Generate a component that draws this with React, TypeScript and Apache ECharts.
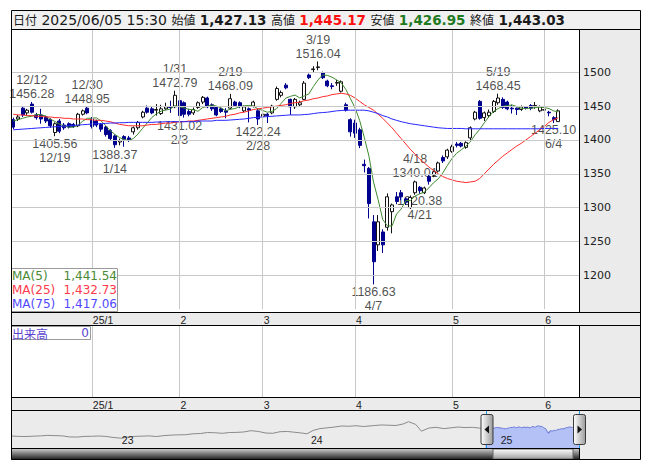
import React, { useEffect, useRef } from "react";
import * as echarts from "echarts";

// ---------- trading days shown (Dec 2024 - Jun 2025) ----------
const decDays = [6, 9, 10, 11, 12, 13, 16, 17, 18, 19, 20, 23, 24, 25, 26, 27, 30];
const janDays = [6, 7, 8, 9, 10, 14, 15, 16, 17, 20, 21, 22, 23, 24, 27, 28, 29, 30, 31];
const febDays = [3, 4, 5, 6, 7, 10, 12, 13, 14, 17, 18, 19, 20, 21, 25, 26, 27, 28];
const marDays = [3, 4, 5, 6, 7, 10, 11, 12, 13, 14, 17, 18, 19, 21, 24, 25, 26, 27, 28, 31];
const aprDays = [1, 2, 3, 4, 7, 8, 9, 10, 11, 14, 15, 16, 17, 18, 21, 22, 23, 24, 25, 28, 30];
const mayDays = [1, 2, 7, 8, 9, 12, 13, 14, 15, 16, 19, 20, 21, 22, 23, 26, 27, 28, 29, 30];
const junDays = [2, 3, 4, 5];

// ---------- candles: [open, close, low, high] ----------
const decOHLC = [
  [1430, 1419, 1416, 1433], [1431, 1434, 1428, 1437], [1447, 1437, 1434, 1449], [1440, 1444, 1437, 1446],
  [1453, 1441, 1439, 1456.28], [1437, 1433, 1430, 1440], [1437, 1431, 1424, 1446], [1434, 1428, 1425, 1436],
  [1430, 1421, 1418, 1432], [1411, 1424, 1405.56, 1426], [1428, 1413, 1410, 1431], [1422, 1418, 1415, 1425],
  [1424, 1419, 1417, 1426], [1423, 1420, 1418, 1425], [1421, 1438, 1419, 1440], [1438, 1443, 1436, 1445],
  [1447, 1440, 1438, 1448.95],
];
const janOHLC = [
  [1431, 1420, 1417, 1434], [1428, 1422, 1419, 1430], [1423, 1416, 1412, 1425], [1419, 1408, 1405, 1421],
  [1414, 1402, 1400, 1416], [1406, 1393, 1388.37, 1408], [1397, 1399, 1392, 1402], [1405, 1401, 1390, 1407],
  [1403, 1400, 1397, 1406], [1412, 1418, 1408, 1420], [1418, 1426, 1415, 1428], [1434, 1441, 1432, 1443],
  [1447, 1441, 1439, 1451], [1446, 1440, 1438, 1449], [1444, 1445, 1436, 1453], [1439, 1446, 1437, 1452],
  [1446, 1449, 1444, 1455], [1449, 1448, 1440, 1458], [1449, 1466, 1447, 1472.79],
];
const febOHLC = [
  [1458, 1436, 1431.02, 1460], [1455, 1438, 1433, 1457], [1442, 1438, 1435, 1446], [1440, 1445, 1437, 1448],
  [1448, 1455, 1446, 1457], [1456, 1463, 1453, 1465], [1462, 1449, 1447, 1464], [1452, 1446, 1443, 1454],
  [1448, 1437, 1435, 1450], [1446, 1442, 1440, 1448], [1443, 1441, 1432, 1447], [1447, 1461, 1445, 1468.09],
  [1456, 1451, 1449, 1458], [1455, 1450, 1447, 1457], [1443, 1449, 1441, 1451], [1446, 1444, 1426, 1448],
  [1450, 1456, 1448, 1458], [1443, 1431, 1422.24, 1446],
];
const marOHLC = [
  [1435, 1438, 1433, 1440], [1438, 1436, 1425, 1440], [1440, 1450, 1438, 1452], [1460, 1476, 1458, 1479],
  [1466, 1470, 1463, 1473], [1481, 1477, 1475, 1484], [1460, 1449, 1437, 1461], [1449, 1460, 1446, 1462],
  [1452, 1455, 1449, 1458], [1460, 1484, 1459, 1487], [1496, 1492, 1490, 1498], [1504, 1505, 1500, 1509],
  [1507, 1508, 1503, 1516.04], [1499, 1492, 1490, 1501], [1487, 1480, 1478, 1489], [1480, 1479, 1475, 1484],
  [1484, 1485, 1480, 1489], [1472, 1486, 1470, 1488], [1452, 1444, 1442, 1455], [1430, 1412, 1405, 1432],
];
const aprOHLC = [
  [1425, 1410, 1403, 1430], [1415, 1392, 1388, 1418], [1364, 1362, 1352, 1371], [1358, 1306, 1284, 1360],
  [1279, 1220, 1186.63, 1289], [1245, 1279, 1236, 1289], [1264, 1245, 1233, 1268], [1271, 1316, 1266, 1321],
  [1294, 1304, 1262, 1306], [1316, 1309, 1305, 1323], [1322, 1316, 1311, 1326], [1313, 1308, 1304, 1315],
  [1300, 1315, 1298, 1318], [1322, 1338, 1319, 1340.01], [1330, 1325, 1320.38, 1332], [1322, 1329, 1320, 1331],
  [1346, 1339, 1334, 1348], [1348, 1353, 1345, 1355], [1354, 1366, 1352, 1368], [1374, 1369, 1366, 1377],
  [1375, 1385, 1372, 1387],
];
const mayOHLC = [
  [1383, 1390, 1381, 1393], [1394, 1392, 1389, 1397], [1395, 1391, 1389, 1397], [1389, 1396, 1387, 1398],
  [1403, 1418, 1398, 1420], [1431, 1441, 1429, 1443], [1457, 1432, 1430, 1459], [1433, 1440, 1428, 1442],
  [1436, 1441, 1433, 1445], [1442, 1457, 1440, 1459], [1455, 1462, 1452, 1468.45], [1460, 1448, 1446, 1463],
  [1456, 1446, 1444, 1458], [1447, 1446, 1439, 1452], [1447, 1445, 1437, 1448], [1445, 1449, 1443, 1451],
  [1449, 1447, 1445, 1450], [1451, 1447, 1444, 1453], [1450, 1451, 1446, 1456], [1443, 1449, 1441, 1451],
];
const junOHLC = [
  [1444, 1445, 1438, 1448], [1441, 1440, 1435, 1443], [1433, 1430, 1425.1, 1435], [1427.13, 1443.03, 1426.95, 1445.17],
];

// ---------- moving averages ----------
const ma5Values = [
  1428, 1430, 1432, 1434, 1435, 1437.8, 1437.2, 1435.4, 1430.8, 1427.4, 1423.4, 1420.8, 1419, 1418.8, 1421.6, 1427.6, 1432,
  1432.2, 1432.6, 1428.2, 1421.2, 1413.6, 1408.2, 1403.6, 1400.6, 1399, 1402.2, 1408.8, 1417.2, 1425.2, 1433.2, 1438.6, 1442.6, 1444.2, 1445.6, 1450.8,
  1449, 1447.4, 1445.2, 1444.6, 1442.4, 1447.8, 1450, 1451.6, 1450, 1447.4, 1443, 1445.4, 1446.4, 1449, 1450.4, 1451, 1450, 1446,
  1443.6, 1441, 1442.2, 1446.2, 1454, 1461.8, 1464.4, 1466.4, 1462.2, 1465, 1468, 1479.2, 1488.8, 1496.2, 1495.4, 1492.8, 1488.8, 1484.4, 1474.8, 1461.2,
  1447.4, 1428.8, 1404, 1376.4, 1338, 1311.8, 1282.4, 1273.2, 1272.8, 1290.6, 1298, 1310.6, 1310.4, 1317.2, 1320.4, 1323, 1329.2, 1336.8, 1342.4, 1351.2, 1362.4,
  1372.6, 1380.4, 1385.4, 1390.8, 1397.4, 1407.6, 1415.6, 1425.4, 1434.4, 1442.2, 1446.4, 1449.6, 1450.8, 1451.8, 1449.4, 1446.8, 1446.6, 1446.8, 1447.8, 1448.6,
  1447.8, 1446.4, 1443, 1441.54,
];
const ma25Values = [
  1438, 1437, 1437, 1436, 1436, 1435, 1435, 1434, 1434, 1433, 1433, 1432, 1432, 1431, 1431, 1431, 1430,
  1430, 1429, 1429, 1428, 1427, 1425, 1423, 1422, 1421, 1421, 1421, 1421, 1422, 1423, 1423, 1424, 1425, 1425, 1426,
  1427, 1427, 1428, 1428, 1429, 1430, 1431, 1432, 1433, 1434, 1435, 1437, 1438, 1440, 1441, 1443, 1445, 1446,
  1447, 1448, 1449, 1450, 1451, 1452, 1454, 1455, 1456, 1458, 1459, 1461, 1462, 1464, 1465, 1467, 1468, 1469, 1468, 1466,
  1462, 1457, 1452, 1448, 1444, 1438, 1432, 1425, 1418, 1410, 1402, 1394, 1386, 1379, 1372, 1366, 1360, 1355, 1350, 1346, 1343,
  1341, 1339, 1338, 1337, 1338, 1339, 1343, 1350, 1357, 1364, 1370, 1376, 1381, 1386, 1391, 1395, 1400, 1405, 1410, 1415,
  1420, 1426, 1430, 1432.73,
];
const ma75Values = [
  1415, 1415.5, 1416, 1416.5, 1417, 1417.5, 1418, 1418.5, 1419, 1419.5, 1420, 1420.5, 1421, 1421.5, 1422, 1422.5, 1423,
  1423.5, 1424, 1424, 1424.5, 1425, 1425, 1425.5, 1425.5, 1426, 1426, 1426, 1426, 1426, 1426, 1426.5, 1426.5, 1427, 1427, 1427,
  1427, 1427, 1427, 1427, 1428, 1428, 1428, 1428, 1429, 1429, 1429, 1429.5, 1430, 1430.5, 1431, 1432, 1433, 1433.5,
  1434, 1434.5, 1435, 1435.5, 1436, 1436.5, 1437, 1437, 1437, 1437.5, 1438, 1439, 1440, 1440.5, 1441, 1442, 1443, 1443.5, 1444, 1444,
  1444, 1444, 1444, 1443, 1441, 1439, 1436, 1434, 1431, 1429, 1427, 1425.5, 1424, 1423, 1422, 1421, 1420, 1419, 1418, 1417.5, 1417,
  1417, 1417, 1417, 1416.5, 1416.5, 1416.5, 1416.5, 1416.5, 1416.5, 1416.5, 1416.5, 1416.5, 1416.5, 1416.5, 1416.5, 1416.5, 1416.5, 1416.5, 1416.5, 1416.5,
  1417, 1417, 1417, 1417.06,
];

// ---------- high / low annotations ----------
const highMarks: [string, number][] = [
  ["2024-12-12", 1456.28], ["2024-12-30", 1448.95], ["2025-01-31", 1472.79], ["2025-02-19", 1468.09],
  ["2025-03-19", 1516.04], ["2025-04-18", 1340.01], ["2025-05-19", 1468.45],
];
const lowMarks: [string, number][] = [
  ["2024-12-19", 1405.56], ["2025-01-14", 1388.37], ["2025-02-03", 1431.02], ["2025-02-28", 1422.24],
  ["2025-04-07", 1186.63], ["2025-04-21", 1320.38], ["2025-06-04", 1425.1],
];

// ---------- axis ticks ----------
const priceTicks = [1200, 1250, 1300, 1350, 1400, 1450, 1500];
const monthTickLabels = ["25/1", "2", "3", "4", "5", "6"];

// ---------- navigator (long history overview) ----------
const navHistDates = [
  "2022-06-06", "2022-06-20", "2022-07-04", "2022-07-19", "2022-08-01", "2022-08-15", "2022-08-29", "2022-09-12",
  "2022-09-26", "2022-10-11", "2022-10-24", "2022-11-07", "2022-11-21", "2022-12-05", "2022-12-19",
  "2023-01-04", "2023-01-16", "2023-01-30", "2023-02-13", "2023-02-27", "2023-03-13", "2023-03-27", "2023-04-10",
  "2023-04-24", "2023-05-08", "2023-05-22", "2023-06-05", "2023-06-19", "2023-07-03", "2023-07-18", "2023-08-01",
  "2023-08-15", "2023-08-28", "2023-09-11", "2023-09-25", "2023-10-10", "2023-10-23", "2023-11-06", "2023-11-20",
  "2023-12-04", "2023-12-18", "2023-12-28",
  "2024-01-09", "2024-01-22", "2024-02-05", "2024-02-19", "2024-03-04", "2024-03-18", "2024-04-01", "2024-04-15",
  "2024-05-07", "2024-05-20", "2024-06-03", "2024-06-17", "2024-07-01", "2024-07-11", "2024-07-25", "2024-08-05",
  "2024-08-19", "2024-09-02", "2024-09-17", "2024-10-01", "2024-10-15", "2024-10-28", "2024-11-11", "2024-11-25",
  "2024-12-06",
];
const navHistValues = [
  1115, 1100, 1095, 1110, 1120, 1140, 1130, 1120, 1080, 1075, 1100, 1105, 1115, 1100, 1060,
  1030, 1070, 1100, 1110, 1120, 1095, 1130, 1150, 1160, 1165, 1200, 1210, 1250, 1240, 1220, 1250,
  1255, 1270, 1320, 1290, 1230, 1220, 1280, 1290, 1260, 1230, 1200,
  1330, 1400, 1430, 1460, 1500, 1490, 1510, 1480, 1520, 1540, 1530, 1520, 1580, 1665, 1560, 1300,
  1420, 1450, 1400, 1430, 1460, 1440, 1450, 1420, 1419,
];

// ---------- derived ----------
const p2 = (n: number) => (n < 10 ? "0" + n : "" + n);
const toDates = (y: number, m: number, days: number[]) => days.map((d) => `${y}-${p2(m)}-${p2(d)}`);
const tradingDates = [
  ...toDates(2024, 12, decDays), ...toDates(2025, 1, janDays), ...toDates(2025, 2, febDays),
  ...toDates(2025, 3, marDays), ...toDates(2025, 4, aprDays), ...toDates(2025, 5, mayDays), ...toDates(2025, 6, junDays),
];
const categories = [...tradingDates, "pad-1", "pad-2", "pad-3", "pad-4"];
const ohlc = [...decOHLC, ...janOHLC, ...febOHLC, ...marOHLC, ...aprOHLC, ...mayOHLC, ...junOHLC];
const monthFirstDates = [janDays, febDays, marDays, aprDays, mayDays, junDays].map(
  (days, k) => `2025-${p2(k + 1)}-${p2(days[0])}`
);
const monthLabelOf: Record<string, string> = {};
monthFirstDates.forEach((d, k) => (monthLabelOf[d] = monthTickLabels[k]));
const md = (d: string) => `${+d.slice(5, 7)}/${+d.slice(8, 10)}`;
const fmt = (v: number) => v.toLocaleString("en-US", { minimumFractionDigits: 2, maximumFractionDigits: 2 });

const FONT = "'DejaVu Sans', sans-serif";
const LFONT = "'Liberation Sans', sans-serif";
const JFONT = "'Noto Sans CJK JP', sans-serif";

function buildOption(): any {
  const last = ohlc[ohlc.length - 1];
  const grad = (x2: number, y2: number, stops: [number, string][]) => ({
    type: "linear", x: 0, y: 0, x2, y2,
    colorStops: stops.map(([offset, color]) => ({ offset, color })),
  });
  const rect = (x: number, y: number, w: number, h: number, style: any, z: number) => ({
    type: "rect", shape: { x, y, width: w, height: h }, style, z, silent: true,
  });
  const hl = (x1: number, x2: number, y: number, stroke = "#000", z = 60) => ({
    type: "line", shape: { x1, y1: y, x2, y2: y }, style: { stroke, lineWidth: 1 }, z, silent: true,
  });
  const vl = (x: number, y1: number, y2: number, stroke = "#000", z = 60) => ({
    type: "line", shape: { x1: x, y1, x2: x, y2 }, style: { stroke, lineWidth: 1 }, z, silent: true,
  });
  const txt = (x: number, y: number, text: string, fill: string, align = "left", font = FONT, size = 12) => ({
    type: "text", x, y, z: 62, silent: true,
    style: { text, fill, align, verticalAlign: "middle", fontFamily: font, fontSize: size },
  });

  const maColors = ["#3f8a2f", "#ff2b2b", "#2626ff"];
  const maTextColors = ["#4a8a36", "#ff3a4a", "#5048ff"];
  const maNames = ["MA(5)", "MA(25)", "MA(75)"];
  const maArrays = [ma5Values, ma25Values, ma75Values];

  const graphic: any[] = [
    // backgrounds
    rect(11, 10, 630, 20, { fill: "#f0f0f0" }, -5),
    rect(579, 30, 62, 430, { fill: "#ebebeb" }, -5),
    rect(11, 312, 630, 14, { fill: "#ebebeb" }, -5),
    rect(11, 397, 630, 13, { fill: "#ebebeb" }, -5),
    rect(11, 410, 568, 38, { fill: "#ebebeb" }, -5),
    // scrollbar
    rect(11, 448.5, 568, 11, { fill: grad(0, 1, [[0, "#cfcfcf"], [0.45, "#808080"], [1, "#1e1e1e"]]) }, 40),
    rect(493, 449, 80, 10, { fill: grad(0, 1, [[0, "#fbfbfb"], [0.5, "#d0d0d0"], [1, "#9a9a9a"]]), stroke: "#666", lineWidth: 1 }, 41),
    // frame lines
    hl(11, 641, 29.5), hl(11, 641, 312.5), hl(11, 641, 325.5), hl(11, 641, 397.5), hl(11, 641, 410.5),
    hl(11, 579, 448.5),
    vl(579.5, 30, 312), vl(579.5, 326, 397), vl(579.5, 411, 460),
    { type: "rect", shape: { x: 11.5, y: 10.5, width: 629, height: 449 }, style: { fill: null, stroke: "#000", lineWidth: 1 }, z: 61, silent: true },
    // navigator selection lines and handles
    vl(486.5, 411, 448, "#22a0e6", 62), vl(579.5, 411, 448, "#22a0e6", 62),
    { type: "rect", shape: { x: 481, y: 414.5, width: 12, height: 30, r: 2 }, style: { fill: grad(1, 0, [[0, "#ffffff"], [1, "#9c9c9c"]]), stroke: "#3a3a3a", lineWidth: 1 }, z: 63, silent: true },
    { type: "polygon", shape: { points: [[489, 425.5], [489, 433.5], [484.5, 429.5]] }, style: { fill: "#111" }, z: 64, silent: true },
    { type: "rect", shape: { x: 573.5, y: 414.5, width: 12, height: 30, r: 2 }, style: { fill: grad(1, 0, [[0, "#ffffff"], [1, "#9c9c9c"]]), stroke: "#3a3a3a", lineWidth: 1 }, z: 63, silent: true },
    { type: "polygon", shape: { points: [[577.5, 425.5], [577.5, 433.5], [582, 429.5]] }, style: { fill: "#111" }, z: 64, silent: true },
    // MA legend box
    rect(11.5, 268.5, 106, 43, { fill: "#ffffff", stroke: "#9a9a9a", lineWidth: 1 }, 55),
    // volume label box
    rect(11.5, 326.5, 79, 13, { fill: "#ffffff", stroke: "#9a9a9a", lineWidth: 1 }, 55),
    txt(12, 333, "出来高", "#5b45d0", "left", JFONT, 12),
    txt(89, 333, "0", "#5b45d0", "right", FONT, 12),
  ];
  maNames.forEach((name, k) => {
    const arr = maArrays[k];
    graphic.push(txt(12, 275.5 + k * 14, name, maTextColors[k]));
    graphic.push(txt(117, 275.5 + k * 14, fmt(arr[arr.length - 1]), maTextColors[k], "right"));
  });

  const gridLineStyle = { color: "#c8c8c8", width: 1, type: "solid" };
  const catAxisLabel = (margin: number) => ({
    interval: (_i: number, v: string) => monthLabelOf[v] !== undefined,
    formatter: (v: string) => monthLabelOf[v] || "",
    align: "left",
    padding: [0, 0, 0, 1],
    margin,
    fontSize: 10.5,
    fontFamily: LFONT,
    color: "#222",
  });
  const annLabel = (position: string, distance: number) => ({
    show: true,
    position,
    distance,
    formatter: (p: any) =>
      position === "top"
        ? `${md(p.value[0])}\n${p.value[1].toFixed(2)}`
        : `${p.value[1].toFixed(2)}\n${md(p.value[0])}`,
    color: "#1e1e1e",
    fontFamily: LFONT,
    fontSize: 12.5,
    lineHeight: 14,
  });

  return {
    animation: false,
    backgroundColor: "#ffffff",
    textStyle: { fontFamily: FONT },
    title: {
      left: 13,
      top: 10,
      padding: 0,
      text:
        `{l|日付} {v|2025/06/05 15:30} {l|始値} {b|${fmt(last[0])}} {l|高値} {r|${fmt(last[3])}} ` +
        `{l|安値} {g|${fmt(last[2])}} {l|終値} {b|${fmt(last[1])}}`,
      textStyle: {
        fontFamily: FONT, fontSize: 14, color: "#1a1a1a", fontWeight: "normal", lineHeight: 19,
        rich: {
          l: { fontFamily: JFONT, fontSize: 12, color: "#1a1a1a", lineHeight: 19 },
          v: { fontFamily: FONT, fontSize: 14, color: "#1a1a1a", lineHeight: 19 },
          b: { fontFamily: FONT, fontSize: 13.5, fontWeight: "bold", color: "#1a1a1a", lineHeight: 19 },
          r: { fontFamily: FONT, fontSize: 13.5, fontWeight: "bold", color: "#ff1010", lineHeight: 19 },
          g: { fontFamily: FONT, fontSize: 13.5, fontWeight: "bold", color: "#1f7a1f", lineHeight: 19 },
        },
      },
    },
    grid: [
      { left: 11, top: 30, width: 568, height: 279.13 },
      { left: 11, top: 326, width: 568, height: 71 },
      { left: 11, top: 411, width: 568, height: 37 },
    ],
    xAxis: [
      {
        type: "category", gridIndex: 0, data: categories, boundaryGap: true,
        axisLine: { show: false }, axisTick: { show: false }, splitLine: { show: false },
        axisLabel: catAxisLabel(5),
      },
      {
        type: "category", gridIndex: 1, data: categories, boundaryGap: true,
        axisLine: { show: false }, axisTick: { show: false }, splitLine: { show: false },
        axisLabel: catAxisLabel(2),
      },
      {
        type: "time", gridIndex: 2, z: 10,
        min: +new Date(2022, 5, 5), max: +new Date(2025, 5, 5),
        axisLine: { show: false }, axisTick: { show: false }, splitLine: { show: false },
        axisLabel: {
          inside: true, margin: 3, align: "left", padding: [0, 0, 0, 2],
          showMinLabel: false, showMaxLabel: false, hideOverlap: false,
          fontSize: 10.5, fontFamily: LFONT, color: "#222",
          formatter: (v: number) => {
            const d = new Date(v);
            return d.getMonth() === 0 && d.getDate() === 1 ? String(d.getFullYear()).slice(2) : "";
          },
        },
      },
    ],
    yAxis: [
      {
        type: "value", gridIndex: 0, position: "right", min: 1150, max: 1562.5, interval: 50,
        axisLine: { show: false }, axisTick: { show: false }, splitLine: { show: false },
        axisLabel: {
          margin: 4, fontSize: 11, fontFamily: FONT, color: "#222", align: "left",
          formatter: (v: number) => (priceTicks.indexOf(v) >= 0 ? String(v) : ""),
        },
      },
      { type: "value", gridIndex: 1, min: 0, max: 1, show: false },
      { type: "value", gridIndex: 2, min: 654, max: 2077, show: false },
    ],
    series: [
      {
        type: "line", xAxisIndex: 0, yAxisIndex: 0, data: [], z: 0, silent: true,
        markLine: {
          silent: true, symbol: ["none", "none"], label: { show: false }, lineStyle: gridLineStyle,
          emphasis: { disabled: true },
          data: [
            ...monthFirstDates.map((d) => ({ xAxis: d })),
            ...priceTicks.map((v) => ({ yAxis: v })),
          ],
        },
      },
      {
        type: "line", xAxisIndex: 1, yAxisIndex: 1, data: [], z: 0, silent: true,
        markLine: {
          silent: true, symbol: ["none", "none"], label: { show: false }, lineStyle: gridLineStyle,
          emphasis: { disabled: true },
          data: monthFirstDates.map((d) => ({ xAxis: d })),
        },
      },
      {
        type: "scatter", xAxisIndex: 0, yAxisIndex: 0, z: 1, silent: true,
        symbol: "circle", symbolSize: 1, itemStyle: { color: "rgba(0,0,0,0)" },
        data: highMarks.map(([d, v]) => ({ value: [d, v] })),
        label: annLabel("top", 0),
      },
      {
        type: "scatter", xAxisIndex: 0, yAxisIndex: 0, z: 1, silent: true,
        symbol: "circle", symbolSize: 1, itemStyle: { color: "rgba(0,0,0,0)" },
        data: lowMarks.map(([d, v]) => ({ value: [d, v] })),
        label: annLabel("bottom", 0),
      },
      {
        type: "candlestick", xAxisIndex: 0, yAxisIndex: 0, z: 3, silent: true,
        data: ohlc, barWidth: 3.5,
        itemStyle: { color: "#ffffff", color0: "#00008f", borderColor: "#111111", borderColor0: "#00008f", borderWidth: 1 },
      },
      ...maArrays.map((arr, k) => ({
        type: "line", xAxisIndex: 0, yAxisIndex: 0, z: 4, silent: true,
        data: arr, showSymbol: false, symbol: "none",
        lineStyle: { color: maColors[k], width: 1 },
      })),
      {
        type: "line", xAxisIndex: 2, yAxisIndex: 2, z: 2, silent: true,
        data: navHistDates.map((d, i) => [d, navHistValues[i]]),
        showSymbol: false, symbol: "none",
        lineStyle: { color: "#8a8a8a", width: 1 },
      },
      {
        type: "line", xAxisIndex: 2, yAxisIndex: 2, z: 2, silent: true,
        data: tradingDates.map((d, i) => [d, ohlc[i][1]]),
        showSymbol: false, symbol: "none",
        lineStyle: { color: "#6b7bd6", width: 1 },
        areaStyle: { color: "#b3c1f7", opacity: 1 },
      },
    ],
    graphic: { elements: graphic },
  };
}

export default function App() {
  const ref = useRef<HTMLDivElement>(null);
  useEffect(() => {
    if (!ref.current) return;
    const chart = echarts.init(ref.current, null, { renderer: "svg" });
    chart.setOption(buildOption());
    return () => chart.dispose();
  }, []);
  return (
    <div
      ref={ref}
      style={{ position: "fixed", left: 0, top: 0, width: 653, height: 470, background: "#fff" }}
    />
  );
}
